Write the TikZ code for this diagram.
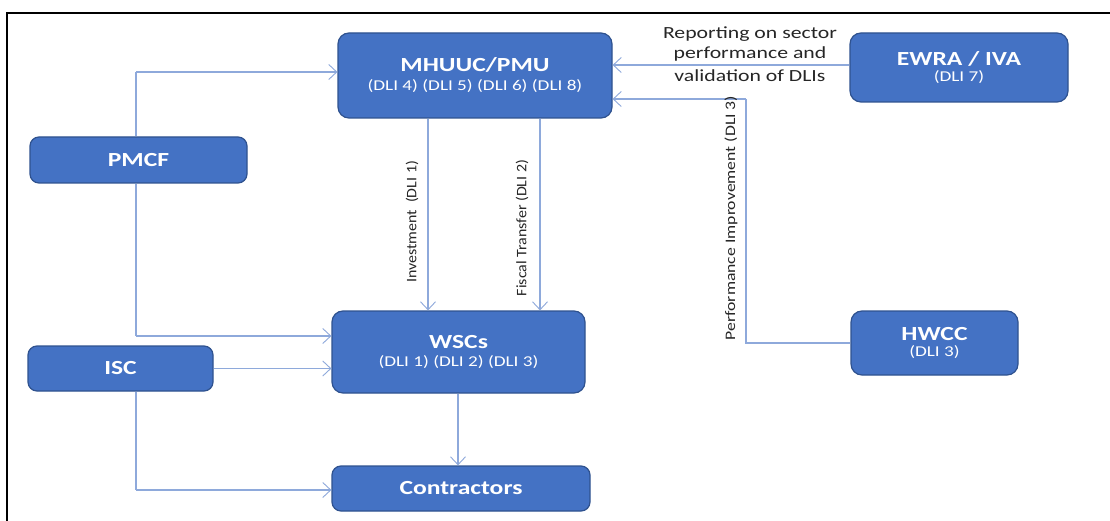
\documentclass[tikz,border=0pt]{standalone}
\usepackage{fontspec}
\setmainfont{Carlito}
\newfontfamily\boxfont[FakeStretch=1.28]{Carlito}
\newfontfamily\labfont[FakeStretch=1.1]{Carlito}
\newfontfamily\perffont[FakeStretch=1.22]{Carlito}
\newfontfamily\repfont[FakeStretch=1.28]{Carlito}
\usetikzlibrary{arrows.meta}
\definecolor{boxfill}{HTML}{4472C4}
\definecolor{boxline}{HTML}{2F528F}
\definecolor{conn}{HTML}{8EA9DB}
\definecolor{lbl}{HTML}{262626}
\tikzset{
  unit/.style={draw=boxline, line width=1.2pt, fill=boxfill, rounded corners=11pt,
    text=white, align=center, font=\boxfont, inner sep=0pt},
  link/.style={draw=conn, line width=1.1pt, -{Straight Barb[length=8pt,width=15pt,line width=0.9pt]}},
  plain/.style={draw=conn, line width=1.1pt},
  lab/.style={text=lbl, font=\labfont\fontsize{14.5}{16}\selectfont, inner sep=0pt},
}
\newcommand{\ttl}[1]{{\fontsize{20}{22}\selectfont\bfseries #1}}
\newcommand{\sub}[1]{{\fontsize{15}{17}\selectfont #1}}
\begin{document}
\begin{tikzpicture}[x=1pt,y=-1pt]
\useasboundingbox (0,0) rectangle (1110,521);
\fill[white] (0,0) rectangle (1110,521);
% frame
\draw[black, line width=2.2pt] (7,521) -- (7,13) -- (1110,13);

% free corner points of connectors
\coordinate (ptop) at (136,72);
\coordinate (pbot) at (136,336);
\coordinate (ibot) at (136,490);
\coordinate (hcor) at (746,343);
\coordinate (hup) at (746,99);

% boxes
\node[unit, minimum width=274pt, minimum height=85pt] (mh) at (475,75.5) {\ttl{MHUUC/PMU}\\[7pt]\sub{(DLI 4) (DLI 5) (DLI 6) (DLI 8)}};
\node[unit, minimum width=218pt, minimum height=69pt] (ew) at (959,67.5) {\ttl{EWRA / IVA}\\[4pt]\sub{(DLI 7)}};
\node[unit, minimum width=217pt, minimum height=46pt, rounded corners=9pt] (pm) at (138.5,160) {\ttl{PMCF}};
\node[unit, minimum width=253pt, minimum height=82pt] (ws) at (458.5,352) {\ttl{WSCs}\\[6pt]\sub{(DLI 1) (DLI 2) (DLI 3)}};
\node[unit, minimum width=167pt, minimum height=64pt] (hw) at (934.5,343) {\ttl{HWCC}\\[4pt]\sub{(DLI 3)}};
\node[unit, minimum width=185pt, minimum height=45pt, rounded corners=9pt] (isc) at (120.5,368.5) {\ttl{ISC}};
\node[unit, minimum width=258pt, minimum height=45pt, rounded corners=9pt] (co) at (461,488.5) {\ttl{Contractors}};

% PMCF line (passes behind PMCF box)
\draw[link] (ptop) -- (mh.west |- ptop);
\draw[plain] (ptop) -- (pm.north -| ptop);
\draw[plain] (pm.south -| ptop) -- (pbot);
\draw[link] (pbot) -- (ws.west |- pbot);
% ISC
\draw[link] (isc.east) -- (ws.west |- isc.east);
\draw[plain] (isc.south -| ibot) -- (ibot);
\draw[link] (ibot) -- (co.west |- ibot);
% MHUUC to WSCs
\draw[link] (mh.south -| 428,0) -- (ws.north -| 428,0);
\draw[link] (mh.south -| 540,0) -- (ws.north -| 540,0);
\node[lab, rotate=90] (inv) at (412,222) {Investment\enspace(DLI 1)};
\node[lab, rotate=90] (fis) at (522,228) {Fiscal Transfer (DLI 2)};
% WSCs to contractors
\draw[link] (ws.south -| 458,0) -- (co.north -| 458,0);
% EWRA
\draw[link] (ew.west |- 0,65) -- (mh.east |- 0,65);
\node[lab, align=center, font=\repfont\fontsize{17}{20}\selectfont] (rep) at (750,54) {Reporting on sector\\performance and\\[3pt]validation of DLIs};
% HWCC
\draw[plain] (hw.west |- hcor) -- (hcor) -- (hup);
\draw[link] (hup) -- (mh.east |- hup);
\node[lab, rotate=90, font=\perffont\fontsize{14.5}{16}\selectfont] (perf) at (731,218) {Performance Improvement (DLI 3)};
\end{tikzpicture}
\end{document}
